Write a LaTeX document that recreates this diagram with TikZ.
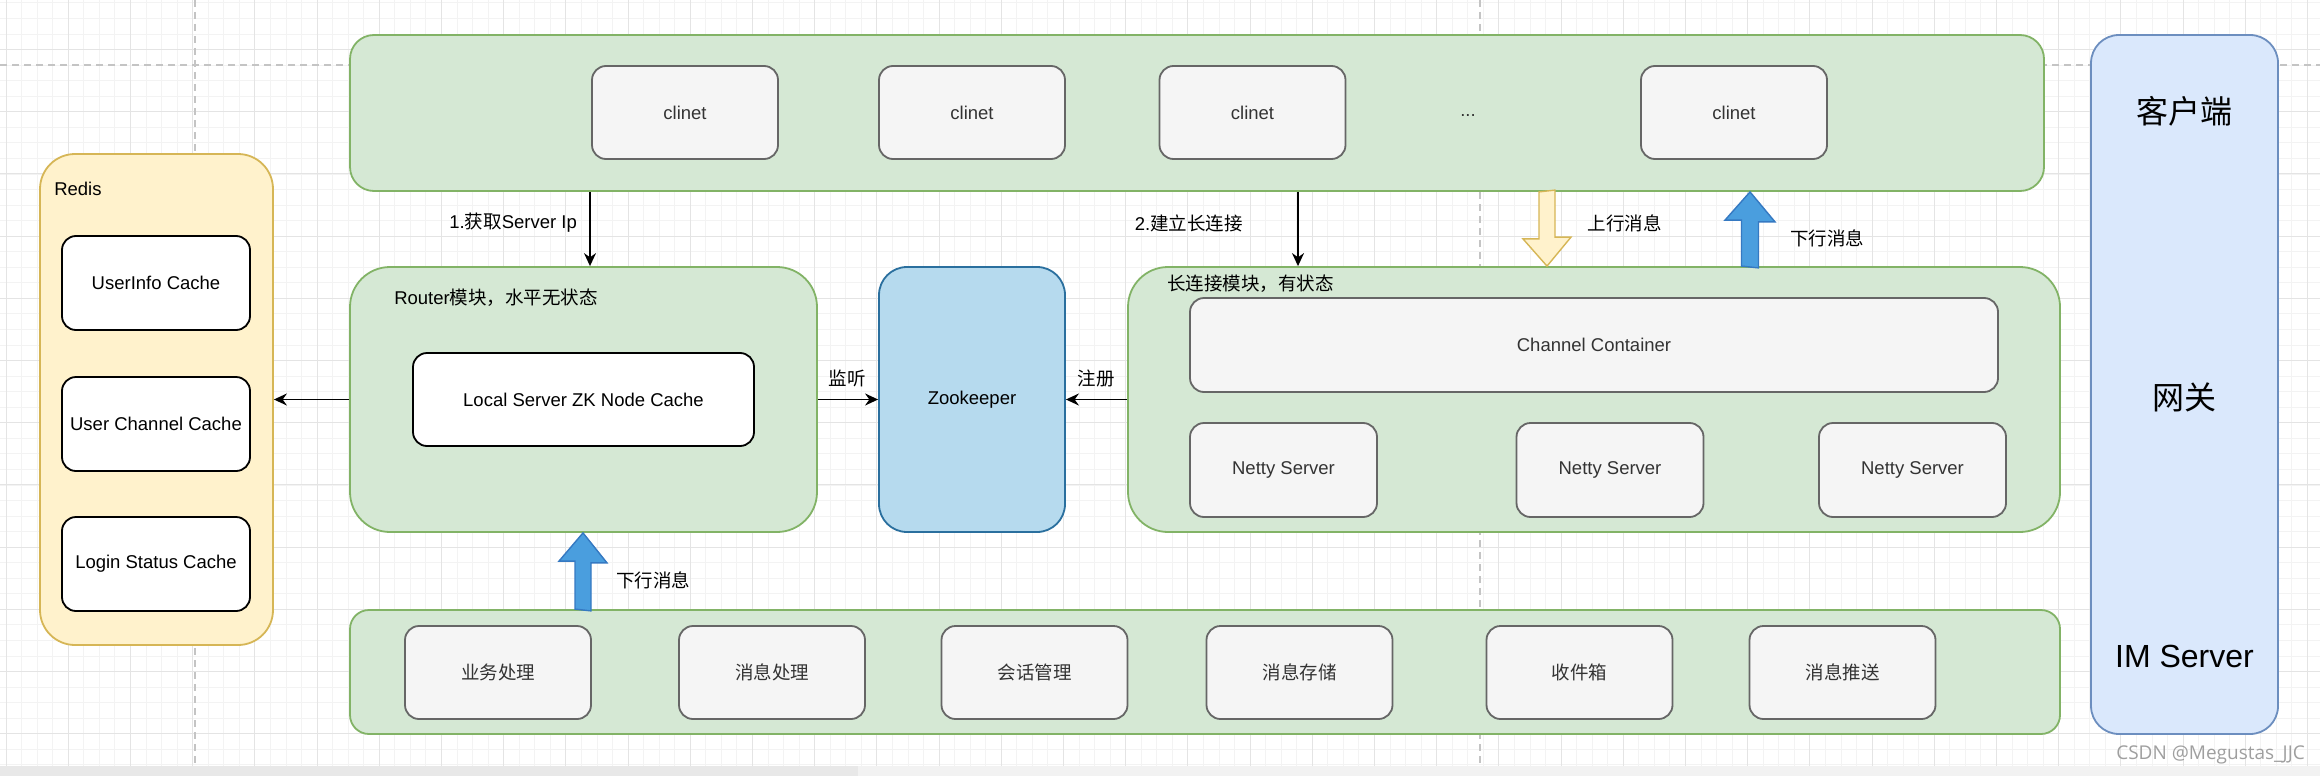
\documentclass[tikz,border=0pt]{standalone}
\usepackage{fontspec}
\setmainfont{Liberation Sans}
\newfontfamily\cjk{Noto Sans CJK SC}
\newfontfamily\markfont{Open Sans}
\newcommand{\zh}[1]{{\cjk #1}}
\usepackage{tikz}
\usetikzlibrary{arrows.meta,calc}
\usepackage{xcolor}
\definecolor{grpfill}{HTML}{D5E8D4}
\definecolor{grpline}{HTML}{82B366}
\definecolor{cellfill}{HTML}{F5F5F5}
\definecolor{cellline}{HTML}{666666}
\definecolor{celltext}{HTML}{333333}
\definecolor{redisfill}{HTML}{FFF2CC}
\definecolor{redisline}{HTML}{D6B656}
\definecolor{zkfill}{HTML}{B6DAEE}
\definecolor{zkline}{HTML}{2A6F9E}
\definecolor{gwfill}{HTML}{DAE8FC}
\definecolor{gwline}{HTML}{6C8EBF}
\definecolor{pushfill}{HTML}{4A9EDE}
\definecolor{pushline}{HTML}{3579C2}
\definecolor{gridmajor}{HTML}{E4E4E4}
\definecolor{gridminor}{HTML}{F3F3F3}
\definecolor{guide}{HTML}{C4C4C4}
\tikzset{
  group/.style={draw=grpline, fill=grpfill, line width=1.8pt, inner sep=0pt},
  cell/.style={draw=cellline, fill=cellfill, text=celltext, line width=1.8pt,
              rounded corners=14pt, minimum width=186pt, minimum height=93pt},
  cache/.style={draw=black, fill=white, line width=1.8pt,
              rounded corners=14pt, minimum width=188pt, minimum height=94pt},
  store/.style={draw=redisline, fill=redisfill, line width=1.8pt, inner sep=0pt},
  tag/.style={inner sep=0pt, text=black},
  bigtag/.style={inner sep=0pt, text=black, font=\fontsize{32}{38}\selectfont},
  link/.style={line width=1.6pt, -{Stealth[length=13pt,width=12pt]}},
  fatarrow/.style={draw=pushline, fill=pushfill, line width=1.4pt},
  hollowarrow/.style={draw=redisline, fill=redisfill, line width=1.4pt},
  guideline/.style={draw=guide, line width=1.6pt, dash pattern=on 7pt off 5pt},
}
\begin{document}
\begin{tikzpicture}[x=1pt, y=-1pt, font=\fontsize{18.5}{22}\selectfont]
\useasboundingbox (0,0) rectangle (2320,776);
\fill[white] (0,0) rectangle (2320,776);
% canvas grid
\foreach \k in {0,...,148} \draw[gridminor, line width=0.8pt] ({6+15.55*\k},0) -- ({6+15.55*\k},766);
\foreach \k in {-3,...,46} \draw[gridminor, line width=0.8pt] (0,{49.5+15.55*\k}) -- (2320,{49.5+15.55*\k});
\foreach \k in {0,...,37} \draw[gridmajor, line width=1pt] ({6+62.2*\k},0) -- ({6+62.2*\k},766);
\foreach \k in {0,...,11} \draw[gridmajor, line width=1pt] (0,{49.5+62.2*\k}) -- (2320,{49.5+62.2*\k});
\fill[gray!18] (0,766) rectangle (858,776);
\fill[gray!10] (858,766) rectangle (2320,776);
\draw[guideline] (0,65) -- (2320,65);
\draw[guideline] (195,0) -- (195,766);
\draw[guideline] (1480,0) -- (1480,766);

% clients
\node[group, rounded corners=24pt, minimum width=1694pt, minimum height=156pt] (clients) at (1197,113) {};
\node[cell] (c1) at (685,112.5) {clinet};
\node[cell] (c2) at (972,112.5) {clinet};
\node[cell] (c3) at (1252.5,112.5) {clinet};
\node[tag, text=celltext] (more) at (1468,116) {...};
\node[cell] (c4) at (1734,112.5) {clinet};

% redis
\node[store, rounded corners=35pt, minimum width=233pt, minimum height=491pt] (redis) at (156.5,399.5) {};
\node[tag, anchor=west] (redislbl) at ([shift={(15,36)}]redis.north west) {Redis};
\node[cache] (userinfo) at (156,283) {UserInfo Cache};
\node[cache] (userchan) at (156,424) {User Channel Cache};
\node[cache] (login) at (156,564) {Login Status Cache};

% router
\node[group, rounded corners=40pt, minimum width=467pt, minimum height=265pt] (router) at (583.5,399.5) {};
\node[tag, anchor=west] (routerlbl) at ([shift={(45,32)}]router.north west) {Router\zh{模块，水平无状态}};
\node[cache, minimum width=341pt, minimum height=93pt] (zkcache) at (583.5,399.5) {Local Server ZK Node Cache};

% zookeeper
\node[draw=zkline, fill=zkfill, line width=1.8pt, rounded corners=28pt,
      minimum width=186pt, minimum height=265pt] (zk) at (972,399.5) {Zookeeper};

% long connection module
\node[group, rounded corners=40pt, minimum width=932pt, minimum height=265pt] (long) at (1594,399.5) {};
\node[tag, anchor=west] (longlbl) at ([shift={(40,18)}]long.north west) {\zh{长连接模块，有状态}};
\node[cell, minimum width=808pt, minimum height=94pt] (chan) at (1594,345) {Channel Container};
\node[cell, minimum width=187pt, minimum height=94pt] (netty1) at (1283.5,470) {Netty Server};
\node[cell, minimum width=187pt, minimum height=94pt] (netty2) at (1610,470) {Netty Server};
\node[cell, minimum width=187pt, minimum height=94pt] (netty3) at (1912.5,470) {Netty Server};

% business layer
\node[group, rounded corners=19pt, minimum width=1710pt, minimum height=124pt] (biz) at (1205,672) {};
\node[cell] (biz1) at (498,672.5) {\zh{业务处理}};
\node[cell] (biz2) at (772,672.5) {\zh{消息处理}};
\node[cell] (biz3) at (1034.5,672.5) {\zh{会话管理}};
\node[cell] (biz4) at (1299.5,672.5) {\zh{消息存储}};
\node[cell] (biz5) at (1579.5,672.5) {\zh{收件箱}};
\node[cell] (biz6) at (1842.5,672.5) {\zh{消息推送}};

% gateway column
\node[draw=gwline, fill=gwfill, line width=1.8pt, rounded corners=28pt,
      minimum width=187pt, minimum height=699pt] (gw) at (2184.5,384.5) {};
\node[bigtag] (gwtop) at ([shift={(0,77)}]gw.north) {\zh{客户端}};
\node[bigtag] (gwmid) at ([shift={(0,12.5)}]gw.center) {\zh{网关}};
\node[bigtag] (gwbot) at ([shift={(0,-78)}]gw.south) {IM Server};

% connectors
\coordinate (getip) at (590,0);
\coordinate (connect) at (1298,0);
\draw[link] (clients.south -| getip) -- (router.north -| getip);
\node[tag, anchor=east] (getiplbl) at (577,223) {1.\zh{获取}Server Ip};
\draw[link] (clients.south -| connect) -- (long.north -| connect);
\node[tag, anchor=east] (connectlbl) at (1243,223) {2.\zh{建立长连接}};
\draw[link] (router.west) -- (redis.east);
\draw[link] (router.east) -- (zk.west);
\node[tag] (listenlbl) at (847,378) {\zh{监听}};
\draw[link] (long.west) -- (zk.east);
\node[tag] (reglbl) at (1096,378) {\zh{注册}};

% message flow arrows
\coordinate (upmsg) at (1547,0);
\coordinate (downmsg) at (1750,0);
\coordinate (pushmsg) at (583,0);
\draw[hollowarrow] (clients.south -| upmsg) ++(-8,0) -- ++(0,47) -- ++(-16,0)
  -- (long.north -| upmsg) -- ++(24,-29) -- ++(-16,0) -- ++(0,-47) -- cycle;
\node[tag] (uplbl) at (1624.5,223) {\zh{上行消息}};
\draw[fatarrow] (long.north -| downmsg) ++(-8.5,0) -- ++(0,-46) -- ++(-16.5,0)
  -- (clients.south -| downmsg) -- ++(25,30) -- ++(-16.5,0) -- ++(0,46) -- cycle;
\node[tag, anchor=west] (downlbl) at (1790,238) {\zh{下行消息}};
\draw[fatarrow] (biz.north -| pushmsg) ++(-8,0) -- ++(0,-48) -- ++(-16,0)
  -- (router.south -| pushmsg) -- ++(24,30) -- ++(-16,0) -- ++(0,48) -- cycle;
\node[tag, anchor=west] (pushlbl) at (616,580) {\zh{下行消息}};

\node[inner sep=0pt, text=gray!75, font=\markfont\fontsize{19}{22}\selectfont, anchor=east] (mark) at (2305,755) {CSDN @Megustas\_JJC};
\end{tikzpicture}
\end{document}
